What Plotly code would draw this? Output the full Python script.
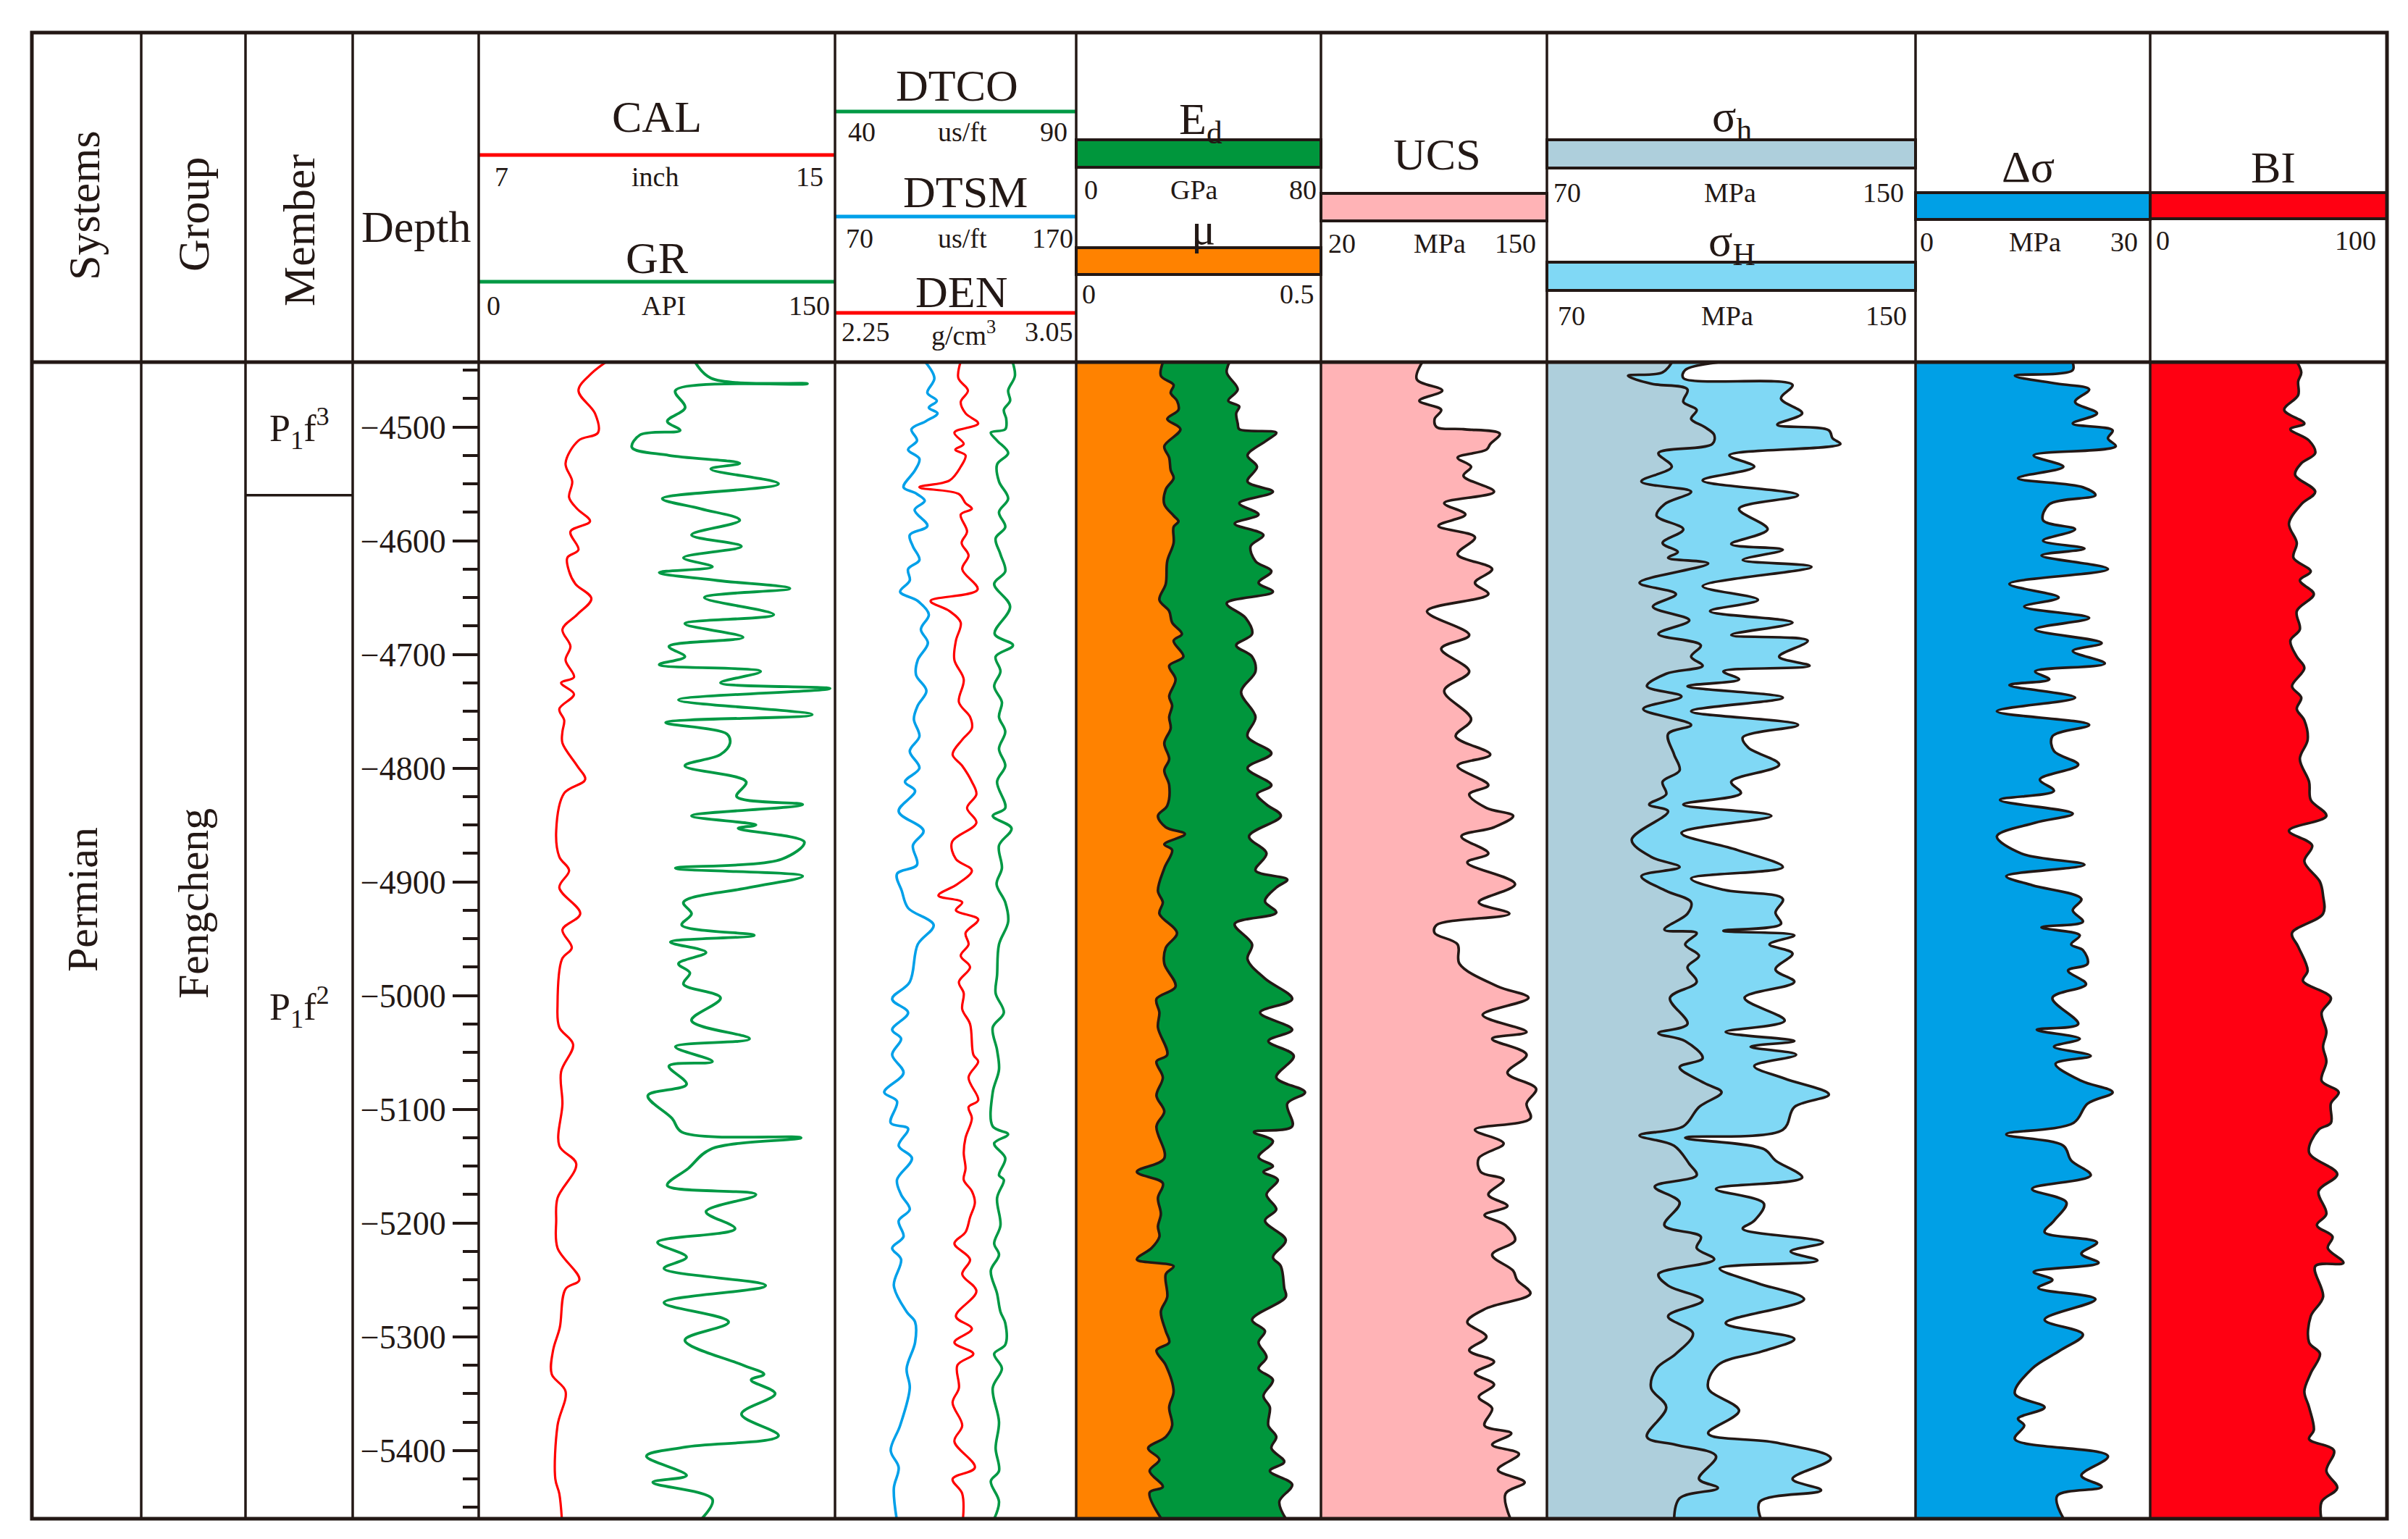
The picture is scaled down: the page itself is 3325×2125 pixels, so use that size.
import plotly.graph_objects as go

W, H = 3325, 2125
FONT = "Liberation Serif, Times New Roman, serif"
INK = "#231815"

# ------------------------------------------------------------------ data
DEPTH_RANGE = [-5460, -4443]
DEPTH_TICKS = [-4500, -4600, -4700, -4800, -4900, -5000, -5100, -5200, -5300, -5400]
DEPTH_TICK_LABELS = ["\u22124500", "\u22124600", "\u22124700", "\u22124800", "\u22124900",
                     "\u22125000", "\u22125100", "\u22125200", "\u22125300", "\u22125400"]
SYSTEM = "Permian"
GROUP = "Fengcheng"
MEMBERS = ["P<sub>1</sub>f<sup>3</sup>", "P<sub>1</sub>f<sup>2</sup>"]
MEMBER_TOPS = [-4443, -4560]
MEMBER_BASES = [-4560, -5460]

CAL_RANGE = [7, 15]
GR_RANGE = [0, 150]
DTCO_RANGE = [40, 90]
DTSM_RANGE = [70, 170]
DEN_RANGE = [2.25, 3.05]
ED_RANGE = [0, 80]
MU_RANGE = [0, 0.5]
UCS_RANGE = [20, 150]
SIG_RANGE = [70, 150]
DSIG_RANGE = [0, 30]
BI_RANGE = [0, 100]

cal_depth = [-4440, -4453, -4468, -4488, -4505, -4512, -4532, -4548, -4562, -4572, -4583, -4592, -4608,
             -4615, -4627, -4638, -4651, -4665, -4678, -4693, -4705, -4720, -4725, -4735, -4748, -4758,
             -4768, -4778, -4798, -4810, -4822, -4855, -4878, -4890, -4905, -4928, -4942, -4958, -4968,
             -5008, -5028, -5043, -5067, -5095, -5132, -5148, -5178, -5198, -5222, -5250, -5258, -5292,
             -5312, -5333, -5348, -5378, -5425, -5438, -5462]
cal_val = [9.97, 9.53, 9.24, 9.61, 9.68, 9.24, 8.95, 9.10, 9.03, 9.21, 9.50, 9.06, 9.24, 8.99, 9.03, 9.17,
           9.53, 9.21, 8.88, 9.06, 8.95, 9.14, 8.85, 9.14, 8.81, 8.92, 8.88, 8.88, 9.21, 9.39, 8.92, 8.74,
           8.81, 9.03, 8.81, 9.28, 8.88, 9.09, 8.87, 8.77, 8.81, 9.12, 8.85, 8.88, 8.81, 9.19, 8.77, 8.74,
           8.77, 9.26, 8.95, 8.82, 8.67, 8.64, 8.95, 8.77, 8.72, 8.81, 8.87]

gr_depth = [-4440, -4457, -4462, -4468, -4483, -4495, -4503, -4507, -4518, -4525,
            -4532, -4537, -4550, -4563, -4572, -4582, -4595, -4605, -4615, -4623,
            -4628, -4635, -4642, -4650, -4665, -4673, -4685, -4693, -4702, -4709,
            -4715, -4725, -4730, -4740, -4753, -4760, -4770, -4778, -4788, -4798,
            -4812, -4825, -4832, -4842, -4850, -4853, -4865, -4880, -4888, -4895,
            -4905, -4918, -4928, -4938, -4947, -4953, -4962, -4972, -4980, -4990,
            -5002, -5022, -5038, -5045, -5058, -5062, -5078, -5088, -5108, -5120,
            -5125, -5135, -5152, -5167, -5175, -5190, -5205, -5217, -5230, -5240,
            -5255, -5270, -5287, -5303, -5325, -5333, -5338, -5350, -5368, -5387,
            -5397, -5405, -5422, -5428, -5443, -5462]
gr_val = [90.3, 97.7, 138.4, 82.8, 86.9, 79.4, 84.8, 67.9, 64.5, 80.1,
          109.9, 97.7, 126.2, 77.3, 93.6, 109.9, 89.6, 110.6, 86.2, 98.4,
          76.0, 100.4, 131.0, 95.0, 124.2, 86.8, 111.3, 80.1, 86.8, 76.0,
          118.7, 101.8, 147.9, 84.1, 140.4, 78.7, 104.5, 105.8, 101.8, 86.8,
          112.6, 108.6, 136.4, 89.6, 116.7, 109.2, 137.1, 127.6, 82.8, 136.4,
          114.0, 86.2, 89.6, 85.5, 116.0, 80.7, 95.7, 84.1, 88.9, 86.2,
          101.8, 89.6, 114.0, 82.8, 98.4, 80.1, 87.5, 71.2, 81.4, 85.5,
          135.7, 97.7, 88.2, 79.4, 116.7, 95.7, 107.9, 75.3, 87.5, 78.0,
          120.8, 78.0, 105.2, 86.8, 111.3, 120.1, 114.7, 124.8, 110.6, 126.2,
          86.8, 70.6, 87.5, 73.3, 98.4, 93.0]

dtsm_depth = [-4440, -4457, -4470, -4477, -4483, -4488, -4495, -4502, -4512, -4520,
              -4528, -4538, -4553, -4558, -4565, -4573, -4587, -4595, -4605, -4617,
              -4625, -4635, -4645, -4653, -4665, -4678, -4690, -4705, -4718, -4732,
              -4745, -4757, -4772, -4785, -4800, -4812, -4820, -4838, -4855, -4868,
              -4885, -4893, -4908, -4923, -4938, -4955, -4988, -5003, -5015, -5030,
              -5038, -5052, -5068, -5085, -5093, -5112, -5117, -5132, -5143, -5162,
              -5175, -5188, -5198, -5212, -5222, -5232, -5255, -5278, -5287, -5305,
              -5328, -5345, -5378, -5400, -5415, -5433, -5462]
dtsm_val = [106.3, 111.2, 108.3, 112.2, 108.9, 112.5, 107.6, 101.7, 104.0, 100.3,
            105.0, 103.2, 98.4, 103.2, 107.2, 103.0, 108.3, 101.0, 102.3, 105.0,
            100.3, 101.0, 97.0, 104.3, 108.9, 105.6, 108.5, 104.3, 103.6, 107.9,
            104.3, 102.7, 105.0, 101.0, 105.0, 99.0, 103.2, 96.4, 106.7, 102.3,
            104.0, 95.7, 97.7, 100.3, 110.9, 104.3, 101.0, 93.7, 100.3, 93.7,
            97.4, 93.7, 98.4, 90.4, 95.7, 93.1, 100.3, 96.4, 101.9, 95.7,
            97.4, 101.0, 96.4, 98.4, 93.7, 97.4, 94.4, 99.7, 103.2, 103.2,
            99.7, 101.0, 97.0, 93.1, 96.4, 94.4, 95.7]

den_depth = [-4440, -4457, -4468, -4478, -4488, -4497, -4505, -4515, -4520, -4525,
             -4535, -4547, -4553, -4559, -4567, -4572, -4577, -4592, -4602, -4613,
             -4625, -4643, -4653, -4662, -4672, -4688, -4705, -4722, -4742, -4755,
             -4765, -4775, -4788, -4798, -4812, -4823, -4835, -4848, -4865, -4880,
             -4890, -4902, -4912, -4918, -4925, -4933, -4945, -4955, -4965, -4975,
             -4988, -4998, -5012, -5025, -5052, -5058, -5072, -5092, -5098, -5108,
             -5125, -5138, -5152, -5162, -5172, -5182, -5195, -5208, -5218, -5232,
             -5245, -5260, -5282, -5293, -5305, -5315, -5325, -5345, -5358, -5378,
             -5392, -5415, -5425, -5438, -5462]
den_val = [2.670, 2.659, 2.691, 2.667, 2.683, 2.725, 2.646, 2.677, 2.649, 2.683,
           2.667, 2.630, 2.530, 2.661, 2.683, 2.704, 2.667, 2.688, 2.670, 2.693,
           2.672, 2.723, 2.567, 2.630, 2.667, 2.651, 2.646, 2.677, 2.661, 2.698,
           2.704, 2.672, 2.640, 2.672, 2.704, 2.719, 2.688, 2.719, 2.638, 2.651,
           2.704, 2.656, 2.593, 2.672, 2.651, 2.725, 2.683, 2.693, 2.667, 2.698,
           2.661, 2.677, 2.672, 2.698, 2.709, 2.725, 2.693, 2.725, 2.693, 2.704,
           2.683, 2.677, 2.683, 2.677, 2.704, 2.714, 2.698, 2.683, 2.646, 2.698,
           2.672, 2.719, 2.651, 2.704, 2.646, 2.709, 2.656, 2.661, 2.640, 2.672,
           2.646, 2.714, 2.640, 2.672, 2.674]

dtco_depth = [-4440, -4455, -4468, -4477, -4485, -4493, -4502, -4505, -4512, -4523,
              -4533, -4548, -4563, -4575, -4588, -4598, -4612, -4627, -4638, -4658,
              -4682, -4692, -4702, -4715, -4728, -4742, -4755, -4768, -4783, -4798,
              -4812, -4835, -4842, -4853, -4868, -4888, -4902, -4918, -4935, -4955,
              -4982, -4998, -5015, -5028, -5048, -5065, -5085, -5115, -5122, -5130,
              -5143, -5158, -5162, -5178, -5202, -5218, -5228, -5242, -5262, -5278,
              -5288, -5307, -5315, -5328, -5345, -5375, -5398, -5418, -5427, -5445, -5462]
dtco_val = [76.6, 77.3, 75.9, 76.3, 75.0, 75.5, 75.3, 72.3, 73.6, 75.9,
            73.6, 74.0, 75.9, 74.0, 75.3, 73.3, 74.3, 75.3, 73.0, 76.3,
            73.1, 76.9, 73.3, 74.3, 73.0, 74.6, 74.0, 75.3, 74.0, 75.3,
            73.6, 75.3, 72.7, 76.6, 74.0, 74.6, 73.5, 75.3, 75.9, 74.0,
            73.6, 73.3, 75.0, 72.7, 73.6, 74.0, 72.7, 72.7, 75.9, 73.0,
            75.3, 74.0, 75.0, 73.6, 74.3, 73.0, 74.0, 72.3, 73.6, 74.3,
            75.3, 75.3, 73.0, 74.6, 72.7, 74.0, 73.3, 74.0, 72.3, 74.0, 72.8]

mu_depth = [-4440, -4455, -4463, -4470, -4477, -4485, -4493, -4502, -4517, -4527,
            -4538, -4545, -4555, -4568, -4578, -4583, -4588, -4602, -4618, -4638,
            -4652, -4662, -4672, -4682, -4688, -4702, -4710, -4722, -4737, -4745,
            -4755, -4765, -4778, -4792, -4802, -4815, -4833, -4842, -4852, -4858,
            -4867, -4872, -4888, -4908, -4918, -4928, -4945, -4958, -4972, -4992,
            -5003, -5015, -5028, -5052, -5058, -5072, -5088, -5102, -5115, -5143,
            -5155, -5165, -5178, -5192, -5203, -5212, -5222, -5232, -5238, -5245,
            -5265, -5278, -5295, -5305, -5312, -5325, -5348, -5362, -5378, -5388,
            -5398, -5408, -5418, -5432, -5437, -5462]
mu_val = [0.180, 0.173, 0.199, 0.193, 0.206, 0.209, 0.186, 0.213, 0.180, 0.190,
          0.193, 0.199, 0.183, 0.180, 0.199, 0.209, 0.199, 0.199, 0.186, 0.183,
          0.170, 0.190, 0.196, 0.216, 0.199, 0.219, 0.190, 0.203, 0.190, 0.196,
          0.190, 0.193, 0.180, 0.190, 0.180, 0.190, 0.186, 0.167, 0.183, 0.222,
          0.180, 0.196, 0.180, 0.167, 0.177, 0.170, 0.206, 0.183, 0.180, 0.203,
          0.164, 0.170, 0.167, 0.186, 0.164, 0.177, 0.164, 0.180, 0.164, 0.180,
          0.124, 0.177, 0.167, 0.173, 0.167, 0.170, 0.154, 0.124, 0.199, 0.183,
          0.186, 0.173, 0.183, 0.190, 0.164, 0.183, 0.199, 0.190, 0.196, 0.183,
          0.147, 0.170, 0.150, 0.177, 0.150, 0.177]

ed_depth = [-4440, -4452, -4467, -4477, -4482, -4488, -4497, -4502, -4505, -4512,
            -4525, -4535, -4548, -4557, -4567, -4577, -4585, -4595, -4605, -4618,
            -4627, -4637, -4645, -4655, -4668, -4682, -4692, -4702, -4715, -4733,
            -4755, -4772, -4787, -4800, -4815, -4823, -4832, -4842, -4860, -4875,
            -4890, -4898, -4905, -4917, -4927, -4937, -4955, -4968, -4985, -5003,
            -5015, -5030, -5040, -5053, -5072, -5085, -5095, -5115, -5120, -5128,
            -5142, -5150, -5155, -5162, -5175, -5188, -5198, -5215, -5230, -5238,
            -5257, -5265, -5285, -5295, -5305, -5318, -5328, -5338, -5352, -5362,
            -5378, -5388, -5398, -5410, -5418, -5430, -5445, -5462]
ed_val = [50.7, 49.2, 52.8, 49.7, 53.3, 52.3, 52.8, 53.3, 65.4, 62.2,
          56.0, 59.1, 56.0, 64.3, 53.3, 59.6, 51.8, 61.2, 57.0, 58.6,
          63.8, 59.6, 64.3, 49.2, 55.4, 57.5, 52.3, 57.5, 58.6, 53.9,
          58.6, 56.0, 63.8, 56.0, 63.8, 59.1, 62.2, 66.9, 56.5, 62.2,
          58.6, 69.0, 65.4, 61.7, 65.4, 51.8, 57.5, 56.0, 61.7, 70.6,
          60.1, 70.6, 62.8, 71.1, 65.4, 74.8, 69.0, 70.6, 58.1, 64.3,
          59.6, 64.3, 61.2, 65.9, 62.2, 65.4, 61.7, 68.5, 64.3, 66.9,
          68.0, 68.5, 57.5, 61.7, 59.6, 62.2, 59.6, 64.3, 61.2, 63.3,
          62.8, 65.4, 63.8, 68.0, 63.3, 70.6, 66.4, 69.0]

ucs_depth = [-4440, -4458, -4468, -4477, -4485, -4493, -4500, -4502, -4506, -4515,
             -4520, -4527, -4535, -4543, -4557, -4567, -4577, -4587, -4597, -4612,
             -4625, -4637, -4647, -4662, -4683, -4695, -4715, -4732, -4757, -4772,
             -4788, -4798, -4815, -4823, -4835, -4842, -4852, -4860, -4875, -4883,
             -4902, -4918, -4928, -4938, -4945, -4955, -4972, -4992, -5002, -5017,
             -5032, -5038, -5052, -5068, -5082, -5095, -5108, -5118, -5130, -5143,
             -5155, -5162, -5175, -5185, -5193, -5202, -5215, -5228, -5242, -5250,
             -5262, -5275, -5287, -5300, -5312, -5322, -5332, -5342, -5353, -5363,
             -5378, -5385, -5395, -5403, -5417, -5428, -5438, -5462]
ucs_val = [79.5, 75.1, 89.8, 76.6, 89.2, 85.4, 86.5, 102.0, 122.9, 117.4,
           115.2, 98.6, 106.4, 102.0, 119.6, 90.9, 103.1, 87.6, 108.6, 98.6,
           118.5, 108.6, 116.3, 81.0, 105.3, 89.2, 105.3, 90.9, 106.4, 97.5,
           117.4, 98.6, 116.3, 105.3, 115.2, 130.6, 119.6, 100.8, 116.3, 104.2,
           131.7, 110.8, 128.4, 86.5, 85.4, 98.6, 99.7, 121.8, 139.4, 113.0,
           138.3, 118.5, 138.3, 127.3, 143.8, 138.3, 140.5, 108.6, 125.1, 110.8,
           111.9, 125.1, 116.3, 127.3, 114.1, 126.2, 131.7, 118.5, 130.6, 132.8,
           140.5, 115.2, 104.2, 115.2, 105.3, 119.6, 108.6, 119.6, 110.8, 118.5,
           114.1, 129.5, 118.5, 133.9, 121.8, 137.2, 126.2, 129.5]

sh_depth = [-4440, -4452, -4455, -4462, -4467, -4478, -4485, -4493, -4500, -4507,
            -4515, -4523, -4535, -4548, -4557, -4568, -4578, -4590, -4602, -4610,
            -4615, -4620, -4637, -4647, -4658, -4670, -4682, -4692, -4702, -4710,
            -4717, -4728, -4737, -4748, -4762, -4770, -4788, -4802, -4812, -4823,
            -4832, -4838, -4863, -4878, -4887, -4895, -4908, -4918, -4928, -4942,
            -4945, -4955, -4965, -4975, -4988, -5002, -5025, -5033, -5040, -5055,
            -5063, -5077, -5085, -5098, -5115, -5123, -5132, -5148, -5158, -5168,
            -5182, -5202, -5212, -5222, -5232, -5245, -5255, -5268, -5282, -5297,
            -5315, -5328, -5345, -5362, -5388, -5395, -5405, -5425, -5433, -5442, -5462]
sh_val = [97.6, 95.1, 87.6, 92.6, 100.5, 99.6, 102.5, 101.3, 104.2, 106.3,
          105.9, 94.2, 97.1, 90.5, 101.3, 95.5, 93.8, 99.6, 95.1, 98.4,
          96.3, 105.0, 90.1, 98.0, 93.0, 100.9, 94.2, 103.4, 101.3, 103.8,
          95.9, 91.7, 99.2, 90.9, 101.3, 96.3, 97.6, 98.8, 95.1, 95.9,
          92.2, 96.3, 88.4, 92.6, 98.8, 90.5, 95.9, 101.3, 100.5, 95.5,
          102.5, 100.0, 103.0, 100.5, 102.5, 96.7, 100.5, 94.2, 100.0, 103.8,
          98.8, 104.2, 107.9, 103.0, 99.6, 90.1, 97.6, 100.9, 102.5, 93.4,
          98.8, 95.5, 103.4, 102.5, 106.3, 94.2, 96.3, 103.8, 96.3, 101.7,
          98.0, 93.8, 92.6, 95.9, 91.7, 98.0, 106.7, 103.0, 107.1, 98.8, 97.6]

sH_depth = [-4440, -4450, -4457, -4463, -4475, -4488, -4498, -4503, -4510, -4515,
            -4525, -4535, -4547, -4560, -4572, -4590, -4603, -4608, -4617, -4623,
            -4640, -4652, -4662, -4672, -4683, -4688, -4702, -4710, -4715, -4722,
            -4728, -4738, -4750, -4762, -4773, -4782, -4797, -4812, -4822, -4832,
            -4842, -4857, -4872, -4887, -4897, -4907, -4915, -4927, -4937, -4943,
            -4947, -4955, -4963, -4977, -4988, -5002, -5022, -5032, -5040, -5045,
            -5052, -5062, -5073, -5087, -5098, -5118, -5125, -5135, -5145, -5160,
            -5170, -5183, -5198, -5205, -5217, -5225, -5233, -5240, -5253, -5267,
            -5288, -5302, -5313, -5325, -5345, -5365, -5385, -5393, -5407, -5425,
            -5435, -5445, -5462]
sH_val = [116.2, 100.0, 99.6, 123.3, 120.8, 125.4, 120.0, 131.2, 132.0, 133.7,
          109.6, 115.0, 103.8, 124.5, 111.7, 117.9, 110.0, 121.2, 112.5, 127.4,
          103.8, 115.8, 105.4, 123.3, 110.0, 126.6, 120.4, 127.0, 108.3, 111.7,
          100.5, 121.2, 101.3, 124.5, 112.5, 113.7, 120.4, 110.0, 112.1, 99.6,
          118.7, 99.2, 111.3, 121.2, 101.3, 108.3, 121.2, 119.6, 120.8, 108.3,
          123.7, 118.3, 123.3, 119.6, 123.7, 112.9, 121.6, 108.8, 123.7, 114.2,
          124.1, 115.0, 121.6, 131.2, 123.7, 121.2, 100.0, 117.1, 119.6, 125.4,
          106.7, 117.1, 115.0, 112.5, 129.9, 122.9, 128.7, 107.5, 115.8, 125.8,
          108.8, 123.7, 116.6, 107.1, 105.0, 111.7, 105.0, 119.6, 131.6, 123.3,
          129.5, 116.2, 116.6]

ds_depth = [-4440, -4450, -4455, -4462, -4467, -4478, -4488, -4497, -4503, -4510,
            -4517, -4525, -4535, -4545, -4553, -4560, -4568, -4582, -4590, -4600,
            -4607, -4613, -4625, -4638, -4650, -4658, -4668, -4678, -4690, -4697,
            -4708, -4715, -4722, -4727, -4738, -4750, -4762, -4772, -4785, -4797,
            -4810, -4820, -4828, -4840, -4848, -4860, -4875, -4885, -4895, -4903,
            -4915, -4925, -4935, -4940, -4947, -4955, -4960, -4972, -4978, -4990,
            -5002, -5025, -5030, -5038, -5045, -5053, -5060, -5075, -5085, -5095,
            -5112, -5122, -5132, -5145, -5158, -5170, -5182, -5198, -5208, -5217,
            -5227, -5235, -5243, -5250, -5257, -5267, -5285, -5298, -5312, -5328,
            -5350, -5362, -5372, -5378, -5390, -5405, -5422, -5432, -5440, -5462]
ds_val = [19.9, 20.1, 12.7, 18.1, 22.2, 20.4, 23.2, 20.1, 25.2, 24.6,
          25.6, 15.1, 18.9, 13.1, 21.4, 23.0, 17.1, 16.3, 20.4, 16.3,
          21.6, 16.1, 24.6, 12.0, 18.3, 13.9, 22.2, 15.3, 23.8, 20.1,
          24.2, 15.3, 17.1, 12.0, 20.4, 10.4, 22.2, 17.5, 17.7, 20.8,
          15.9, 17.7, 10.8, 20.1, 15.3, 10.4, 13.5, 21.6, 11.6, 14.9,
          21.2, 20.1, 21.4, 16.1, 21.0, 19.9, 21.4, 22.0, 19.5, 21.8,
          17.5, 20.8, 15.5, 21.0, 17.7, 22.4, 17.9, 21.2, 25.2, 22.0,
          20.2, 11.6, 18.9, 19.9, 22.4, 14.9, 19.3, 17.7, 16.5, 23.2,
          21.2, 23.4, 15.1, 17.5, 15.7, 23.0, 16.5, 21.4, 18.5, 14.9,
          12.7, 16.5, 13.1, 13.9, 12.7, 24.6, 21.2, 23.8, 18.1, 19.1]

bi_depth = [-4440, -4452, -4460, -4472, -4485, -4497, -4502, -4512, -4523, -4532,
            -4542, -4557, -4568, -4585, -4602, -4615, -4627, -4635, -4647, -4662,
            -4678, -4688, -4702, -4712, -4728, -4738, -4748, -4758, -4775, -4792,
            -4812, -4828, -4842, -4855, -4868, -4882, -4900, -4912, -4928, -4945,
            -4957, -4978, -4987, -5002, -5015, -5032, -5045, -5058, -5075, -5085,
            -5095, -5112, -5118, -5138, -5157, -5172, -5192, -5202, -5212, -5222,
            -5235, -5238, -5265, -5282, -5305, -5315, -5332, -5348, -5362, -5382,
            -5390, -5400, -5418, -5433, -5445, -5462]
bi_val = [61.2, 63.8, 62.5, 62.5, 56.6, 65.1, 59.2, 67.1, 69.7, 63.8,
          61.2, 69.7, 63.8, 58.6, 61.9, 60.5, 67.8, 63.2, 69.1, 61.9,
          63.2, 59.2, 61.9, 65.1, 59.9, 63.8, 61.9, 65.1, 66.5, 63.2,
          67.1, 67.8, 74.4, 58.6, 68.4, 65.1, 71.7, 73.0, 73.0, 59.9,
          62.5, 66.5, 64.5, 76.3, 72.4, 74.4, 73.0, 74.4, 72.4, 79.6,
          76.3, 76.3, 71.1, 67.1, 79.0, 71.1, 74.4, 70.4, 77.0, 75.0,
          81.6, 69.7, 73.0, 67.8, 67.1, 71.7, 67.8, 65.1, 67.1, 69.1,
          67.1, 77.6, 74.4, 79.0, 72.4, 72.4]

# ------------------------------------------------------------------ layout helpers (pixel geometry)
def fx(x):
    return x / W


def fy(y):
    return 1 - y / H


COLS = [36, 187, 331, 479, 653, 1145, 1478, 1816, 2128, 2637, 2961, 3288]
TOP, HEAD_BOTTOM, BOTTOM = 37, 492, 2089

RED = "#FF0000"
GREEN = "#009944"
BLUE = "#00A0E9"
C_ED = "#00963C"
C_MU = "#FF8200"
C_UCS = "#FFB3B6"
C_SH = "#AECFDC"
C_SHH = "#80D8F5"
C_DS = "#00A0E6"
C_BI = "#FF0012"

fig = go.Figure()


def curve(x, y, ax, color, width=3.0):
    fig.add_trace(go.Scatter(x=x, y=y, xaxis=ax, yaxis="y", mode="lines",
                             line=dict(color=color, width=width, shape="spline", smoothing=1.0),
                             hoverinfo="skip", showlegend=False))


def filled(x, y, ax, fillcolor):
    fig.add_trace(go.Scatter(x=x, y=y, xaxis=ax, yaxis="y", mode="lines", fill="tozerox",
                             fillcolor=fillcolor,
                             line=dict(color=INK, width=3.6, shape="spline", smoothing=1.0),
                             hoverinfo="skip", showlegend=False))


curve(cal_val, cal_depth, "x", RED, 3.2)
curve(gr_val, gr_depth, "x2", GREEN, 3.8)
curve(dtco_val, dtco_depth, "x3", GREEN, 3.6)
curve(dtsm_val, dtsm_depth, "x4", BLUE, 3.6)
curve(den_val, den_depth, "x5", RED, 3.2)
filled(ed_val, ed_depth, "x6", C_ED)
filled(mu_val, mu_depth, "x7", C_MU)
filled(ucs_val, ucs_depth, "x8", C_UCS)
filled(sH_val, sH_depth, "x9", C_SHH)
filled(sh_val, sh_depth, "x9", C_SH)
filled(ds_val, ds_depth, "x10", C_DS)
filled(bi_val, bi_depth, "x11", C_BI)


def xax(c0, c1, rng, overlay=None):
    d = dict(domain=[fx(c0), fx(c1)], range=rng, visible=False, anchor="y", fixedrange=True)
    if overlay:
        d["overlaying"] = overlay
    return d


axes = dict(
    xaxis=xax(653, 1145, CAL_RANGE),
    xaxis2=xax(653, 1145, GR_RANGE, "x"),
    xaxis3=xax(1145, 1478, DTCO_RANGE),
    xaxis4=xax(1145, 1478, DTSM_RANGE, "x3"),
    xaxis5=xax(1145, 1478, DEN_RANGE, "x3"),
    xaxis6=xax(1478, 1816, ED_RANGE),
    xaxis7=xax(1478, 1816, MU_RANGE, "x6"),
    xaxis8=xax(1816, 2128, UCS_RANGE),
    xaxis9=xax(2128, 2637, SIG_RANGE),
    xaxis10=xax(2637, 2961, DSIG_RANGE),
    xaxis11=xax(2961, 3288, BI_RANGE),
)

yaxis = dict(domain=[fy(BOTTOM), fy(HEAD_BOTTOM)], range=DEPTH_RANGE, anchor="free",
             position=fx(653), side="left", ticks="outside", tickmode="array",
             tickvals=DEPTH_TICKS, ticktext=DEPTH_TICK_LABELS, ticklen=36, tickwidth=3.5,
             tickcolor=INK, tickfont=dict(family=FONT, size=46, color=INK),
             showgrid=False, zeroline=False, showline=False, fixedrange=True,
             minor=dict(ticks="outside", ticklen=22, tickwidth=3.5, tickcolor=INK,
                        tick0=-4500, dtick=25, showgrid=False))

shapes = []


def line(x0, y0, x1, y1, color=INK, width=3):
    shapes.append(dict(type="line", xref="paper", yref="paper", x0=fx(x0), y0=fy(y0),
                       x1=fx(x1), y1=fy(y1), line=dict(color=color, width=width)))


def bar(x0, y0, x1, y1, color):
    shapes.append(dict(type="rect", xref="paper", yref="paper", x0=fx(x0), y0=fy(y0),
                       x1=fx(x1), y1=fy(y1), fillcolor=color, line=dict(color=INK, width=4)))


# header colour keys
line(653, 206, 1145, 206, RED, 5)
line(653, 381, 1145, 381, GREEN, 5)
line(1145, 146, 1478, 146, GREEN, 5)
line(1145, 291, 1478, 291, BLUE, 5)
line(1145, 424, 1478, 424, RED, 5)
bar(1478, 185, 1816, 223, C_ED)
bar(1478, 334, 1816, 371, C_MU)
bar(1816, 259, 2128, 297, C_UCS)
bar(2128, 185, 2637, 224, C_SH)
bar(2128, 354, 2637, 393, C_SHH)
bar(2637, 258, 2961, 295, C_DS)
bar(2961, 258, 3288, 294, C_BI)

# table grid
for c in COLS[1:-1]:
    line(c, TOP, c, BOTTOM, INK, 3.5)
line(COLS[0], HEAD_BOTTOM, COLS[-1], HEAD_BOTTOM, INK, 5)
shapes.append(dict(type="rect", xref="paper", yref="paper", x0=fx(COLS[0]), y0=fy(BOTTOM),
                   x1=fx(COLS[-1]), y1=fy(TOP), line=dict(color=INK, width=5)))
# member boundary, placed by depth
shapes.append(dict(type="line", xref="paper", yref="y", x0=fx(331), x1=fx(479),
                   y0=MEMBER_BASES[0], y1=MEMBER_BASES[0], line=dict(color=INK, width=3.5)))

annotations = []


def text(t, x, y, size, angle=0, yref="paper", xanchor="center"):
    annotations.append(dict(text=t, x=fx(x), y=fy(y) if yref == "paper" else y,
                            xref="paper", yref=yref, showarrow=False, textangle=angle,
                            xanchor=xanchor, yanchor="middle",
                            font=dict(family=FONT, size=size, color=INK)))


def g(v):
    return f"{v:g}"


TITLE = 62
SCALE = 38
# left columns headers
text("Systems", 108, 276, TITLE, -90)
text("Group", 259, 288, TITLE, -90)
text("Member", 405, 310, TITLE, -90)
text("Depth", 567, 305, TITLE)
text(SYSTEM, 106, 1234, 60, -90)
text(GROUP, 259, 1240, 60, -90)
for name, top, base in zip(MEMBERS, MEMBER_TOPS, MEMBER_BASES):
    text(name, 405, (top + base) / 2, 52, 0, yref="y")

# track headers
text("CAL", 899, 153, TITLE)
text(g(CAL_RANGE[0]), 684, 236, SCALE)
text("inch", 896, 236, SCALE)
text(g(CAL_RANGE[1]), 1110, 236, SCALE)
text("GR", 899, 348, TITLE)
text(g(GR_RANGE[0]), 673, 414, SCALE)
text("API", 908, 414, SCALE)
text(g(GR_RANGE[1]), 1109, 414, SCALE)

text("DTCO", 1313, 110, TITLE)
text(g(DTCO_RANGE[0]), 1182, 174, SCALE)
text("us/ft", 1321, 174, SCALE)
text(g(DTCO_RANGE[1]), 1447, 174, SCALE)
text("DTSM", 1325, 257, TITLE)
text(g(DTSM_RANGE[0]), 1179, 321, SCALE)
text("us/ft", 1321, 321, SCALE)
text(g(DTSM_RANGE[1]), 1445, 321, SCALE)
text("DEN", 1319, 395, TITLE)
text(g(DEN_RANGE[0]), 1187, 450, SCALE)
text("g/cm<sup>3</sup>", 1322, 452, SCALE)
text(g(DEN_RANGE[1]), 1440, 450, SCALE)

text("E<sub>d</sub>", 1650, 160, TITLE)
text(g(ED_RANGE[0]), 1498, 254, SCALE)
text("GPa", 1641, 254, SCALE)
text(g(ED_RANGE[1]), 1791, 254, SCALE)
text("\u03bc", 1653, 308, TITLE)
text(g(MU_RANGE[0]), 1495, 398, SCALE)
text(g(MU_RANGE[1]), 1783, 398, SCALE)

text("UCS", 1976, 205, TITLE)
text(g(UCS_RANGE[0]), 1845, 328, SCALE)
text("MPa", 1980, 328, SCALE)
text(g(UCS_RANGE[1]), 2084, 328, SCALE)

text("\u03c3<sub>h</sub>", 2383, 156, TITLE)
text(g(SIG_RANGE[0]), 2156, 258, SCALE)
text("MPa", 2381, 258, SCALE)
text(g(SIG_RANGE[1]), 2592, 258, SCALE)
text("\u03c3<sub>H</sub>", 2383, 328, TITLE)
text(g(SIG_RANGE[0]), 2162, 428, SCALE)
text("MPa", 2377, 428, SCALE)
text(g(SIG_RANGE[1]), 2596, 428, SCALE)

text("\u0394\u03c3", 2792, 222, TITLE)
text(g(DSIG_RANGE[0]), 2652, 326, SCALE)
text("MPa", 2802, 326, SCALE)
text(g(DSIG_RANGE[1]), 2925, 326, SCALE)

text("BI", 3131, 223, TITLE)
text(g(BI_RANGE[0]), 2978, 324, SCALE)
text(g(BI_RANGE[1]), 3244, 324, SCALE)

fig.update_layout(width=W, height=H, autosize=False,
                  margin=dict(l=0, r=0, t=0, b=0, pad=0),
                  paper_bgcolor="white", plot_bgcolor="white",
                  showlegend=False, yaxis=yaxis, shapes=shapes, annotations=annotations,
                  font=dict(family=FONT, color=INK), **axes)

fig.write_html("out.html", config={"displayModeBar": False})
